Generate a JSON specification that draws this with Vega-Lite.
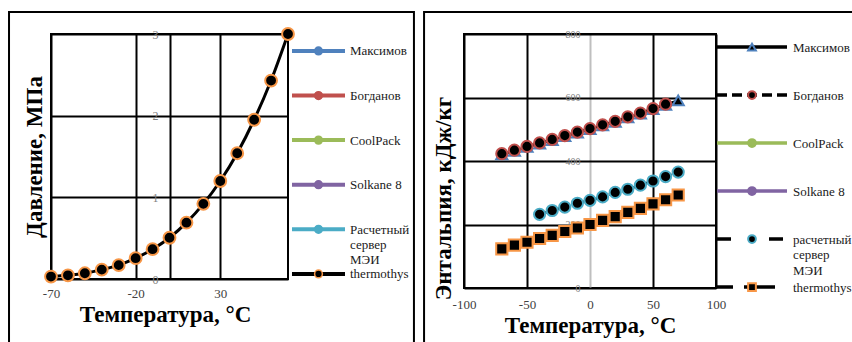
{
  "$schema": "https://vega.github.io/schema/vega-lite/v6.json",
  "padding": {"left": 7, "top": 9, "right": 0, "bottom": 0},
  "background": "white",
  "config": {
    "font": "Liberation Serif",
    "view": {"stroke": null},
    "axis": {
      "labelFont": "Liberation Serif",
      "titleFont": "Liberation Serif",
      "domain": false,
      "ticks": false,
      "grid": true,
      "gridColor": "black",
      "gridWidth": 2,
      "gridOpacity": 1,
      "labelFlush": false,
      "labelOverlap": false,
      "titleFontWeight": "bold",
      "titleFontSize": 23,
      "titleColor": "black"
    },
    "axisY": {"minExtent": 0, "maxExtent": 0}
  },
  "bounds": "flush",
  "spacing": 1,
  "resolve": {
    "scale": {"color": "independent", "fill": "independent", "stroke": "independent", "shape": "independent", "strokeDash": "independent"},
    "legend": {"color": "independent", "fill": "independent", "stroke": "independent", "shape": "independent", "strokeDash": "independent"}
  },
  "hconcat": [
    {
      "width": 237,
      "height": 245,
      "view": {"stroke": "black", "strokeWidth": 2},
      "layer": [
        {
          "data": {"values": [
            {"t": -70, "p": 0.03}, {"t": -60, "p": 0.045}, {"t": -50, "p": 0.07},
            {"t": -40, "p": 0.115}, {"t": -30, "p": 0.17}, {"t": -20, "p": 0.255},
            {"t": -10, "p": 0.365}, {"t": 0, "p": 0.505}, {"t": 10, "p": 0.69},
            {"t": 20, "p": 0.92}, {"t": 30, "p": 1.2}, {"t": 40, "p": 1.54},
            {"t": 50, "p": 1.95}, {"t": 60, "p": 2.43}, {"t": 70, "p": 3.0}
          ]},
          "encoding": {
            "x": {"field": "t", "type": "quantitative", "scale": {"domain": [-70, 70], "nice": false, "zero": false},
              "axis": {"values": [-70, -20, 0, 30], "labelExpr": "datum.value === 0 ? '' : '' + datum.value",
                "labelPadding": 8, "labelFontSize": 13, "labelColor": "#404040",
                "title": "Температура, °C", "titlePadding": 3, "titleX": 114}},
            "y": {"field": "p", "type": "quantitative", "scale": {"domain": [0, 3], "nice": false},
              "axis": {"values": [0, 1, 2, 3], "labelExpr": "'' + datum.value", "labelPadding": -107, "labelFontSize": 12, "labelColor": "#7f7f7f",
                "title": "Давление, МПа", "titlePadding": 5}}
          },
          "layer": [
            {"mark": {"type": "line", "color": "black", "strokeWidth": 3, "interpolate": "monotone"}},
            {"mark": {"type": "point", "shape": "circle", "filled": true, "fill": "black", "stroke": "#F79646", "strokeWidth": 2, "size": 140, "opacity": 1}}
          ]
        },
        {
          "data": {"values": [{}]},
          "mark": {"type": "rect", "fill": "transparent", "stroke": "black", "strokeWidth": 2, "clip": false},
          "encoding": {
            "x": {"datum": -94.8, "type": "quantitative", "title": "Температура, °C", "scale": {"domain": [-70, 70], "nice": false, "zero": false}},
            "x2": {"datum": 144.4},
            "y": {"datum": 3.27, "type": "quantitative", "title": "Давление, МПа", "scale": {"domain": [0, 3], "nice": false}},
            "y2": {"datum": -0.9}
          }
        }
      ]
    },
    {
      "width": 174,
      "height": 245,
      "view": {"stroke": null},
      "data": {"values": [
        {"s": "Максимов", "label": "Максимов"},
        {"s": "Богданов", "label": "Богданов"},
        {"s": "CoolPack", "label": "CoolPack"},
        {"s": "Solkane 8", "label": "Solkane 8"},
        {"s": "Расчетный", "label": "Расчетный\nсервер\nМЭИ"},
        {"s": "thermothys", "label": "thermothys"}
      ]},
      "encoding": {
        "y": {"field": "s", "type": "nominal", "axis": null,
          "scale": {"type": "point", "domain": ["Максимов", "Богданов", "CoolPack", "Solkane 8", "Расчетный", "thermothys"], "padding": 0.246, "align": 0.77}}
      },
      "layer": [
        {
          "mark": {"type": "rule", "strokeWidth": 4},
          "encoding": {
            "x": {"datum": 0, "type": "quantitative", "scale": {"domain": [-0.0566, 3.2264], "nice": false, "zero": false}, "axis": null},
            "x2": {"datum": 1},
            "color": {"field": "s", "type": "nominal", "legend": null,
              "scale": {"domain": ["Максимов", "Богданов", "CoolPack", "Solkane 8", "Расчетный", "thermothys"],
                "range": ["#4F81BD", "#C0504D", "#9BBB59", "#8064A2", "#4BACC6", "#000000"]}}
          }
        },
        {
          "mark": {"type": "point", "shape": "circle", "filled": true, "size": 60, "strokeWidth": 1.5, "opacity": 1},
          "encoding": {
            "x": {"datum": 0.5, "type": "quantitative", "scale": {"domain": [-0.0566, 3.2264], "nice": false, "zero": false}, "axis": null},
            "fill": {"field": "s", "type": "nominal", "legend": null,
              "scale": {"domain": ["Максимов", "Богданов", "CoolPack", "Solkane 8", "Расчетный", "thermothys"],
                "range": ["#4F81BD", "#C0504D", "#9BBB59", "#8064A2", "#4BACC6", "#000000"]}},
            "stroke": {"field": "s", "type": "nominal", "legend": null,
              "scale": {"domain": ["Максимов", "Богданов", "CoolPack", "Solkane 8", "Расчетный", "thermothys"],
                "range": ["#4F81BD", "#C0504D", "#9BBB59", "#8064A2", "#4BACC6", "#F79646"]}}
          }
        },
        {
          "mark": {"type": "text", "align": "left", "baseline": "alphabetic", "dx": 5, "dy": 4.5, "fontSize": 13, "lineBreak": "\n", "lineHeight": 15, "font": "Liberation Serif", "color": "#1a1a1a", "clip": false},
          "encoding": {
            "x": {"datum": 1, "type": "quantitative", "scale": {"domain": [-0.0566, 3.2264], "nice": false, "zero": false}, "axis": null},
            "text": {"field": "label"}
          }
        }
      ]
    },
    {
      "width": 252,
      "height": 254,
      "view": {"stroke": "black", "strokeWidth": 2},
      "layer": [
        {
          "data": {"values": [
            {"s": "Максимов", "t": -70, "h": 421}, {"s": "Максимов", "t": -60, "h": 432}, {"s": "Максимов", "t": -50, "h": 444},
            {"s": "Максимов", "t": -40, "h": 455}, {"s": "Максимов", "t": -30, "h": 466}, {"s": "Максимов", "t": -20, "h": 478},
            {"s": "Максимов", "t": -10, "h": 489}, {"s": "Максимов", "t": 0, "h": 500}, {"s": "Максимов", "t": 10, "h": 512},
            {"s": "Максимов", "t": 20, "h": 523}, {"s": "Максимов", "t": 30, "h": 537}, {"s": "Максимов", "t": 40, "h": 549},
            {"s": "Максимов", "t": 50, "h": 563}, {"s": "Максимов", "t": 60, "h": 577}, {"s": "Максимов", "t": 70, "h": 591},
            {"s": "Богданов", "t": -70, "h": 423}, {"s": "Богданов", "t": -60, "h": 434}, {"s": "Богданов", "t": -50, "h": 446},
            {"s": "Богданов", "t": -40, "h": 457}, {"s": "Богданов", "t": -30, "h": 468}, {"s": "Богданов", "t": -20, "h": 480},
            {"s": "Богданов", "t": -10, "h": 491}, {"s": "Богданов", "t": 0, "h": 502}, {"s": "Богданов", "t": 10, "h": 514},
            {"s": "Богданов", "t": 20, "h": 525}, {"s": "Богданов", "t": 30, "h": 539}, {"s": "Богданов", "t": 40, "h": 551},
            {"s": "Богданов", "t": 50, "h": 565}, {"s": "Богданов", "t": 60, "h": 579},
            {"s": "расчетный", "t": -40, "h": 232}, {"s": "расчетный", "t": -30, "h": 244}, {"s": "расчетный", "t": -20, "h": 255},
            {"s": "расчетный", "t": -10, "h": 267}, {"s": "расчетный", "t": 0, "h": 276}, {"s": "расчетный", "t": 10, "h": 287},
            {"s": "расчетный", "t": 20, "h": 301}, {"s": "расчетный", "t": 30, "h": 311}, {"s": "расчетный", "t": 40, "h": 324},
            {"s": "расчетный", "t": 50, "h": 337}, {"s": "расчетный", "t": 60, "h": 351}, {"s": "расчетный", "t": 70, "h": 365},
            {"s": "thermothys", "t": -70, "h": 123}, {"s": "thermothys", "t": -60, "h": 135}, {"s": "thermothys", "t": -50, "h": 144},
            {"s": "thermothys", "t": -40, "h": 156}, {"s": "thermothys", "t": -30, "h": 166}, {"s": "thermothys", "t": -20, "h": 178},
            {"s": "thermothys", "t": -10, "h": 189}, {"s": "thermothys", "t": 0, "h": 200}, {"s": "thermothys", "t": 10, "h": 213},
            {"s": "thermothys", "t": 20, "h": 225}, {"s": "thermothys", "t": 30, "h": 238}, {"s": "thermothys", "t": 40, "h": 251},
            {"s": "thermothys", "t": 50, "h": 265}, {"s": "thermothys", "t": 60, "h": 278}, {"s": "thermothys", "t": 70, "h": 293}
          ]},
          "encoding": {
            "x": {"field": "t", "type": "quantitative", "scale": {"domain": [-100, 100], "nice": false},
              "axis": {"values": [-100, -50, 0, 50, 100], "labelExpr": "'' + datum.value",
                "gridColor": {"condition": {"test": "datum.value === 0", "value": "#BFBFBF"}, "value": "black"},
                "labelPadding": 10, "labelFontSize": 13, "labelColor": "#404040",
                "title": "Температура, °C", "titlePadding": 3}},
            "y": {"field": "h", "type": "quantitative", "scale": {"domain": [0, 800], "nice": false},
              "axis": {"values": [0, 200, 400, 600, 800], "labelExpr": "'' + datum.value", "labelPadding": -116, "labelFontSize": 10, "labelColor": "#7f7f7f",
                "title": "Энтальпия, кДж/кг", "titlePadding": 9, "titleY": 164}}
          },
          "layer": [
            {
              "mark": {"type": "line", "color": "black", "strokeWidth": 2.5},
              "encoding": {
                "detail": {"field": "s", "type": "nominal"},
                "strokeDash": {"field": "s", "type": "nominal", "legend": null,
                  "scale": {"domain": ["Максимов", "Богданов", "расчетный", "thermothys"], "range": [[1, 0], [6, 4], [12, 6], [6, 4]]}}
              }
            },
            {
              "mark": {"type": "point", "filled": true, "fill": "black", "strokeWidth": 2, "size": 125, "opacity": 1},
              "encoding": {
                "shape": {"field": "s", "type": "nominal", "legend": null,
                  "scale": {"domain": ["Максимов", "Богданов", "расчетный", "thermothys"], "range": ["triangle-up", "circle", "circle", "square"]}},
                "stroke": {"field": "s", "type": "nominal", "legend": null,
                  "scale": {"domain": ["Максимов", "Богданов", "расчетный", "thermothys"], "range": ["#4F81BD", "#C0504D", "#4BACC6", "#F79646"]}}
              }
            }
          ]
        },
        {
          "data": {"values": [{}]},
          "mark": {"type": "rect", "fill": "transparent", "stroke": "black", "strokeWidth": 2, "clip": false},
          "encoding": {
            "x": {"datum": -131.7, "type": "quantitative", "title": "Температура, °C", "scale": {"domain": [-100, 100], "nice": false}},
            "x2": {"datum": 230},
            "y": {"datum": 869, "type": "quantitative", "title": "Энтальпия, кДж/кг", "scale": {"domain": [0, 800], "nice": false}},
            "y2": {"datum": -210}
          }
        }
      ]
    },
    {
      "width": 70,
      "height": 254,
      "view": {"stroke": null},
      "data": {"values": [
        {"s": "Максимов", "label": "Максимов"},
        {"s": "Богданов", "label": "Богданов"},
        {"s": "CoolPack", "label": "CoolPack"},
        {"s": "Solkane 8", "label": "Solkane 8"},
        {"s": "расчетный", "label": "расчетный\nсервер\nМЭИ"},
        {"s": "thermothys", "label": "thermothys"}
      ]},
      "encoding": {
        "y": {"field": "s", "type": "nominal", "axis": null,
          "scale": {"type": "point", "domain": ["Максимов", "Богданов", "CoolPack", "Solkane 8", "расчетный", "thermothys"], "padding": 0.146, "align": 0.93}}
      },
      "layer": [
        {
          "mark": {"type": "rule", "strokeWidth": 3.5},
          "encoding": {
            "x": {"datum": 0, "type": "quantitative", "scale": {"domain": [0, 1]}, "axis": null},
            "x2": {"datum": 1},
            "color": {"field": "s", "type": "nominal", "legend": null,
              "scale": {"domain": ["Максимов", "Богданов", "CoolPack", "Solkane 8", "расчетный", "thermothys"],
                "range": ["#000000", "#000000", "#9BBB59", "#8064A2", "#000000", "#000000"]}},
            "strokeDash": {"field": "s", "type": "nominal", "legend": null,
              "scale": {"domain": ["Максимов", "Богданов", "CoolPack", "Solkane 8", "расчетный", "thermothys"],
                "range": [[1, 0], [10, 5], [1, 0], [1, 0], [14, 38], [16, 11, 31, 12]]}}
          }
        },
        {
          "mark": {"type": "point", "filled": true, "size": 60, "strokeWidth": 2, "opacity": 1},
          "encoding": {
            "x": {"datum": 0.5, "type": "quantitative", "scale": {"domain": [0, 1]}, "axis": null},
            "shape": {"field": "s", "type": "nominal", "legend": null,
              "scale": {"domain": ["Максимов", "Богданов", "CoolPack", "Solkane 8", "расчетный", "thermothys"],
                "range": ["triangle-up", "circle", "circle", "circle", "circle", "square"]}},
            "fill": {"field": "s", "type": "nominal", "legend": null,
              "scale": {"domain": ["Максимов", "Богданов", "CoolPack", "Solkane 8", "расчетный", "thermothys"],
                "range": ["#000000", "#000000", "#9BBB59", "#8064A2", "#000000", "#000000"]}},
            "stroke": {"field": "s", "type": "nominal", "legend": null,
              "scale": {"domain": ["Максимов", "Богданов", "CoolPack", "Solkane 8", "расчетный", "thermothys"],
                "range": ["#4F81BD", "#C0504D", "#9BBB59", "#8064A2", "#4BACC6", "#F79646"]}}
          }
        },
        {
          "mark": {"type": "text", "align": "left", "baseline": "alphabetic", "dx": 6, "dy": 4.5, "fontSize": 13, "lineBreak": "\n", "lineHeight": 15.5, "font": "Liberation Serif", "color": "#1a1a1a", "clip": false},
          "encoding": {
            "x": {"datum": 1, "type": "quantitative", "scale": {"domain": [0, 1]}, "axis": null},
            "text": {"field": "label"}
          }
        }
      ]
    }
  ]
}
